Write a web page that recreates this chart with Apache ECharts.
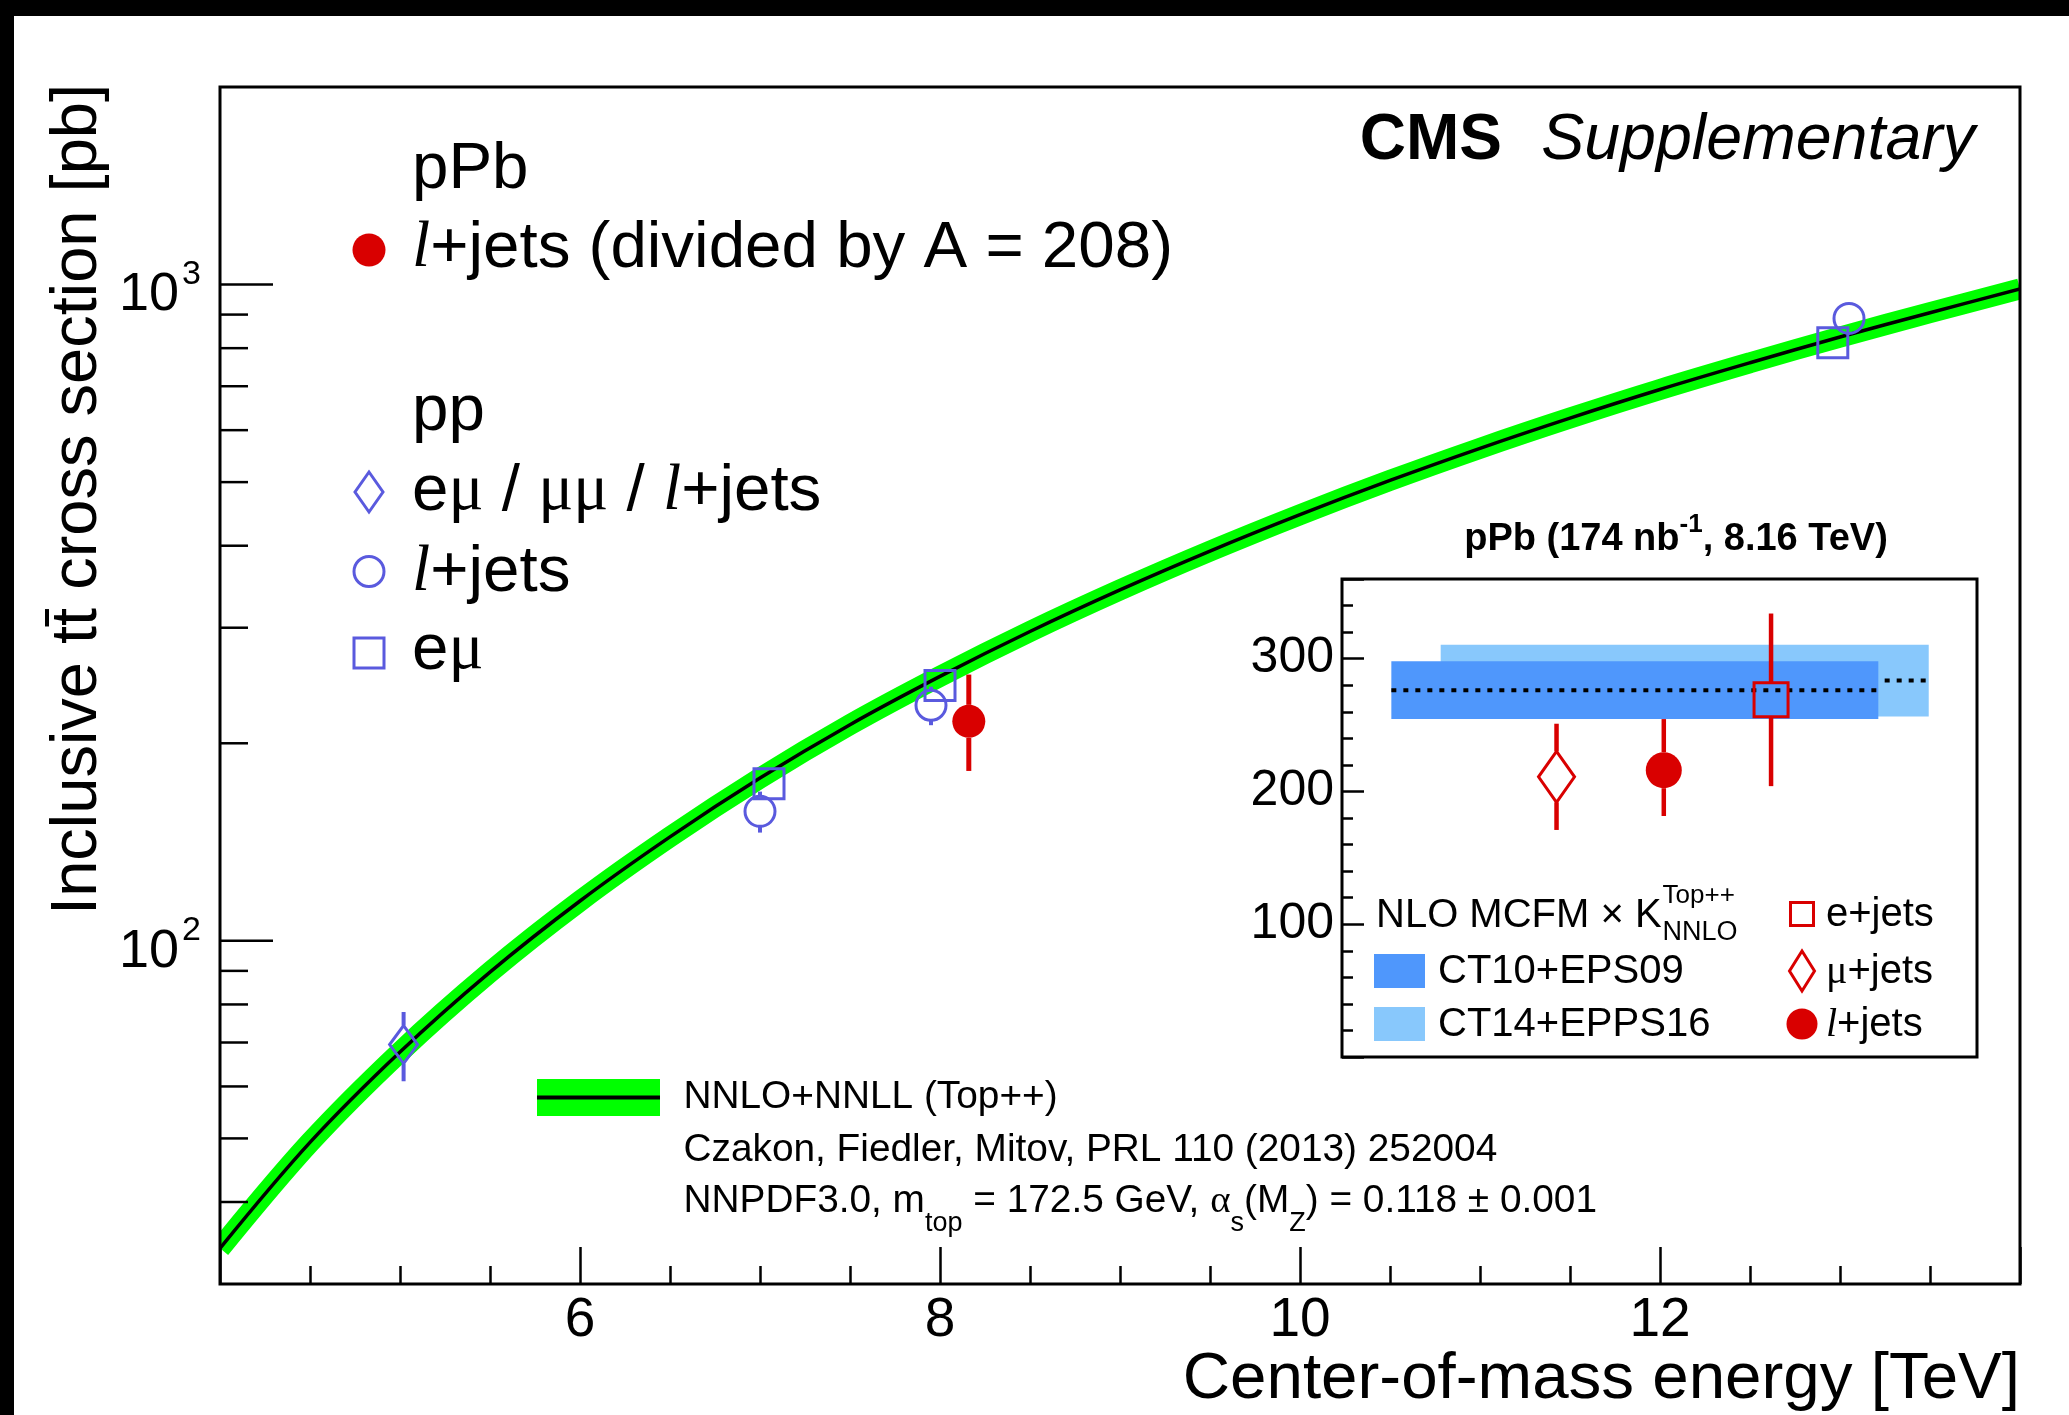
<!DOCTYPE html>
<html>
<head>
<meta charset="utf-8">
<title>Inclusive tt cross section vs centre-of-mass energy</title>
<script src="https://cdn.jsdelivr.net/npm/echarts@6/dist/echarts.min.js"></script>
<style>
  html, body { margin: 0; padding: 0; background: #ffffff; }
  #chart { width: 2069px; height: 1415px; }
</style>
</head>
<body>
<div id="chart"></div>
<script>
// ---- Top++ NNLO+NNLL prediction: sqrt(s) [TeV] -> sigma [pb]
const theoryEnergy = [4.0, 4.5, 5.0, 5.5, 6.0, 6.5, 7.0, 7.5, 8.0, 8.5, 9.0, 9.5, 10.0, 10.5, 11.0, 11.5, 12.0, 12.5, 13.0, 13.5, 14.0];
const theoryXsec = [34.0, 49.3, 67.7, 89.6, 115.0, 144.0, 177.0, 213.5, 252.9, 296.0, 342.5, 392.5, 446.0, 503.0, 563.0, 626.0, 692.0, 760.0, 831.8, 906.0, 984.5];

// ---- pp measurements
const ppDilepEnergy = [5.02];          // e mu / mu mu / l+jets
const ppDilepXsec = [69.5];
const ppDilepErr = [8.4];

const ppLjetsEnergy = [7.0, 7.95, 13.05];
const ppLjetsXsec = [157.5, 228.5, 888];
const ppLjetsErr = [11.3, 15.4, 33];

const ppEmuEnergy = [7.05, 8.0, 12.96];
const ppEmuXsec = [173.6, 244.9, 815];
const ppEmuErr = [6.5, 8.6, 43];

// ---- pPb l+jets, per nucleon pair (divided by A = 208)
const pPbEnergy = [8.16];
const pPbXsec = [216];
const pPbErrUp = [38.5];
const pPbErrDown = [34.5];

// ---- main axes
const xRange = [4, 14];
const yRange = [30, 2000];
const yMajorTicks = [100, 1000];
const yMinorTicks = [40, 50, 60, 70, 80, 90, 200, 300, 400, 500, 600, 700, 800, 900];

// ---- pPb 8.16 TeV panel: mu+jets, l+jets, e+jets
const insetSlot = [2, 3, 4];
const insetXsec = [211, 216, 269];
const insetErrUp = [40, 38.5, 65];
const insetErrDown = [40, 34.5, 65];
const insetXRange = [0, 5.92];
const insetYRange = [0, 360];
const ct10Span = [0.46, 5.0];
const ct10Xsec = [254.5, 276.3, 298];    // low, central, high
const ct14Span = [0.92, 5.47];
const ct14Xsec = [256.5, 283.5, 310.5];  // low, central, high

// ---- styling
const SANS = '"Liberation Sans", Arial, Helvetica, sans-serif';
const SERIF = '"Liberation Serif", "Times New Roman", serif';
const BLUE = '#5a5ade';
const RED = '#d90000';
const GREEN = '#00ff00';
const DARK = '#4f97fc';
const LIGHT = '#88c8fc';

const measureCtx = document.createElement('canvas').getContext('2d');
function fontOf(p) {
  return (p.style || 'normal') + ' ' + (p.weight || 'normal') + ' ' + p.size + 'px ' + (p.family || SANS);
}
function runWidth(parts) {
  return parts.reduce((s, p) => { measureCtx.font = fontOf(p); return s + measureCtx.measureText(p.t).width; }, 0);
}
function textEl(x, y, p, align) {
  return {
    type: 'text', z: 30, x, y, silent: true,
    style: { text: p.t, font: fontOf(p), fill: p.color || '#000',
             align: align || 'left', verticalAlign: 'middle', textAlign: align || 'left', textVerticalAlign: 'middle' }
  };
}
// lays out a sequence of differently styled pieces of text on one line
function textRun(x, y, parts, anchor) {
  const total = runWidth(parts);
  let cx = anchor === 'right' ? x - total : anchor === 'center' ? x - total / 2 : x;
  return parts.map(p => {
    const el = textEl(cx, y + (p.dy || 0), p);
    measureCtx.font = fontOf(p);
    cx += measureCtx.measureText(p.t).width;
    return el;
  });
}

function markerShape(o, cx, cy) {
  const style = o.hollow ? { fill: 'none', stroke: o.color, lineWidth: o.lw || 3 } : { fill: o.color };
  if (o.shape === 'circle') return { type: 'circle', shape: { cx, cy, r: o.r }, style };
  if (o.shape === 'square') return { type: 'rect', shape: { x: cx - o.half, y: cy - o.half, width: 2 * o.half, height: 2 * o.half }, style };
  return { type: 'polygon', shape: { points: [[cx, cy - o.hh], [cx + o.hw, cy], [cx, cy + o.hh], [cx - o.hw, cy]] }, style };
}
function halfHeight(o) { return o.shape === 'circle' ? o.r : o.shape === 'square' ? o.half : o.hh; }

// points with vertical error bars that stop at the marker outline
function measurementSeries(rows, o, axisIndex, z) {
  return {
    type: 'custom', xAxisIndex: axisIndex, yAxisIndex: axisIndex, z: z || 6, silent: true,
    data: rows,
    renderItem(params, api) {
      const x = api.value(0), y = api.value(1), up = api.value(2), dn = api.value(3);
      const p = api.coord([x, y]);
      const t = api.coord([x, y + up]);
      const b = api.coord([x, y - dn]);
      const hh = halfHeight(o);
      const ls = { stroke: o.color, lineWidth: o.barWidth };
      const children = [];
      if (t[1] < p[1] - hh) children.push({ type: 'line', shape: { x1: p[0], y1: t[1], x2: p[0], y2: p[1] - hh }, style: ls });
      if (b[1] > p[1] + hh) children.push({ type: 'line', shape: { x1: p[0], y1: p[1] + hh, x2: p[0], y2: b[1] }, style: ls });
      children.push(markerShape(o, p[0], p[1]));
      return { type: 'group', children };
    }
  };
}

// prediction curve drawn as one smooth polyline, clipped to the frame
function curveSeries(rows, color, width, z) {
  return {
    type: 'custom', xAxisIndex: 0, yAxisIndex: 0, z, silent: true, clip: true,
    data: rows,
    renderItem(params, api) {
      if (params.dataIndexInside !== 0) return null;
      const pts = [];
      for (let i = 0; i < params.dataInsideLength; i++) {
        pts.push(api.coord([api.value(0, i), api.value(1, i)]));
      }
      return { type: 'polyline', shape: { points: pts, smooth: 0.35 },
               style: { stroke: color, lineWidth: width, fill: 'none', lineJoin: 'round' } };
    }
  };
}

const mDiamond = { shape: 'diamond', hw: 14, hh: 19, color: BLUE, hollow: true, lw: 3, barWidth: 4 };
const mCircle = { shape: 'circle', r: 15, color: BLUE, hollow: true, lw: 3, barWidth: 4 };
const mSquare = { shape: 'square', half: 15, color: BLUE, hollow: true, lw: 3, barWidth: 4 };
const mDot = { shape: 'circle', r: 16.5, color: RED, barWidth: 5 };

const iDiamond = { shape: 'diamond', hw: 18, hh: 25.5, color: RED, hollow: true, lw: 3, barWidth: 4.5 };
const iDot = { shape: 'circle', r: 18, color: RED, barWidth: 4.5 };
const iSquare = { shape: 'square', half: 17, color: RED, hollow: true, lw: 3, barWidth: 4.5 };

const rowsOf = (xs, ys, up, dn) => xs.map((x, i) => [x, ys[i], up[i], dn[i]]);
const theoryRows = theoryEnergy.map((e, i) => [e, theoryXsec[i]]);

// ---- y-axis ticks and decade labels of the log axis
const yTickRows = yMajorTicks.map(v => [xRange[0], v, 1]).concat(yMinorTicks.map(v => [xRange[0], v, 0]));
const supFont = { size: 34 };
const baseFont = { size: 54 };

// ---- nPDF bands of the panel
const bandRows = [
  [ct14Span[0], ct14Xsec[1], ct14Span[1], ct14Xsec[0], ct14Xsec[2], 0],
  [ct10Span[0], ct10Xsec[1], ct10Span[1], ct10Xsec[0], ct10Xsec[2], 1]
];

const graphics = [];
// outer dark edges
graphics.push({ type: 'rect', z: 40, shape: { x: 0, y: 0, width: 2069, height: 16 }, style: { fill: '#000' } });
graphics.push({ type: 'rect', z: 40, shape: { x: 0, y: 0, width: 14, height: 1415 }, style: { fill: '#000' } });

// CMS label
graphics.push(...textRun(1502, 141, [{ t: 'CMS', size: 64, weight: 'bold' }], 'right'));
graphics.push(...textRun(1975, 141, [{ t: 'Supplementary', size: 64.5, style: 'italic' }], 'right'));

// axis titles
graphics.push(...textRun(2020, 1380, [{ t: 'Center-of-mass energy [TeV]', size: 65.5 }], 'right'));
graphics.push({
  type: 'text', z: 30, x: 78, y: 84, rotation: Math.PI / 2, silent: true,
  style: { text: 'Inclusive tt\u0304 cross section [pb]', font: fontOf({ size: 65 }), fill: '#000',
           align: 'right', verticalAlign: 'middle', textAlign: 'right', textVerticalAlign: 'middle' }
});

// legend of the measurements
const L = 65.5;
const italL = { t: 'l', size: L, style: 'italic', family: SERIF };
graphics.push(...textRun(412, 170, [{ t: 'pPb', size: L }]));
graphics.push(...textRun(412, 249, [italL, { t: '+jets (divided by A = 208)', size: L }]));
graphics.push(...textRun(412, 411.5, [{ t: 'pp', size: L }]));
graphics.push(...textRun(412, 492, [{ t: 'e', size: L }, { t: 'μ', size: L, family: SERIF }, { t: ' / ', size: L },
  { t: 'μμ', size: L, family: SERIF }, { t: ' / ', size: L }, italL, { t: '+jets', size: L }]));
graphics.push(...textRun(412, 572.5, [italL, { t: '+jets', size: L }]));
graphics.push(...textRun(412, 650.5, [{ t: 'e', size: L }, { t: 'μ', size: L, family: SERIF }]));
[[mDot, 250], [Object.assign({}, mDiamond, { hh: 20 }), 492], [mCircle, 571.5], [mSquare, 653]].forEach(([o, y]) => {
  graphics.push(Object.assign(markerShape(o, 369, y), { z: 30 }));
});

// legend of the prediction
graphics.push({ type: 'rect', z: 30, shape: { x: 537, y: 1079, width: 123, height: 37 }, style: { fill: GREEN } });
graphics.push({ type: 'line', z: 31, shape: { x1: 537, y1: 1097.5, x2: 660, y2: 1097.5 }, style: { stroke: '#000', lineWidth: 4 } });
const S = 38.8;
graphics.push(...textRun(683.5, 1097.5, [{ t: 'NNLO+NNLL (Top++)', size: S }]));
graphics.push(...textRun(683.5, 1150, [{ t: 'Czakon, Fiedler, Mitov, PRL 110 (2013) 252004', size: S }]));
graphics.push(...textRun(683.5, 1201.5, [
  { t: 'NNPDF3.0, m', size: S }, { t: 'top', size: 27, dy: 22 }, { t: ' = 172.5 GeV, ', size: S },
  { t: 'α', size: S, family: SERIF }, { t: 's', size: 27, dy: 22 }, { t: '(M', size: S }, { t: 'Z', size: 27, dy: 22 },
  { t: ') = 0.118 ± 0.001', size: S }]));

// panel title and legend
graphics.push(...textRun(1676, 540, [{ t: 'pPb (174 nb', size: 38, weight: 'bold' }, { t: '-1', size: 26, weight: 'bold', dy: -15 },
  { t: ', 8.16 TeV)', size: 38, weight: 'bold' }], 'center'));
const nloParts = [{ t: 'NLO MCFM × K', size: 40 }];
const nloW = runWidth(nloParts);
graphics.push(...textRun(1376, 916, nloParts));
graphics.push(...textRun(1376 + nloW + 1, 896, [{ t: 'Top++', size: 26 }]));
graphics.push(...textRun(1376 + nloW + 1, 933, [{ t: 'NNLO', size: 27 }]));
graphics.push({ type: 'rect', z: 30, shape: { x: 1374, y: 954, width: 51, height: 34 }, style: { fill: DARK } });
graphics.push({ type: 'rect', z: 30, shape: { x: 1374, y: 1007, width: 51, height: 34 }, style: { fill: LIGHT } });
graphics.push(...textRun(1438, 972, [{ t: 'CT10+EPS09', size: 40 }]));
graphics.push(...textRun(1438, 1025, [{ t: 'CT14+EPPS16', size: 40 }]));
graphics.push(Object.assign(markerShape({ shape: 'square', half: 11.5, color: RED, hollow: true, lw: 3 }, 1802, 914), { z: 30 }));
graphics.push(Object.assign(markerShape({ shape: 'diamond', hw: 12.5, hh: 20, color: RED, hollow: true, lw: 3 }, 1802, 971), { z: 30 }));
graphics.push(Object.assign(markerShape({ shape: 'circle', r: 15.5, color: RED }, 1802, 1024), { z: 30 }));
graphics.push(...textRun(1826, 915, [{ t: 'e+jets', size: 40 }]));
graphics.push(...textRun(1826, 972, [{ t: 'μ', size: 40, family: SERIF }, { t: '+jets', size: 40 }]));
graphics.push(...textRun(1826, 1025, [{ t: 'l', size: 40, style: 'italic', family: SERIF }, { t: '+jets', size: 40 }]));

const chart = echarts.init(document.getElementById('chart'), null, { renderer: 'canvas' });
chart.setOption({
  animation: false,
  backgroundColor: '#ffffff',
  textStyle: { fontFamily: SANS, color: '#000' },
  grid: [
    { left: 220, top: 87, width: 1800, height: 1197, show: true, z: 10, backgroundColor: 'transparent',
      borderColor: '#000', borderWidth: 3, containLabel: false, outerBoundsMode: 'none' },
    { left: 1342, top: 579, width: 635, height: 478, show: true, z: 10, backgroundColor: '#ffffff',
      borderColor: '#000', borderWidth: 3, containLabel: false, outerBoundsMode: 'none' }
  ],
  xAxis: [
    { type: 'value', gridIndex: 0, min: xRange[0], max: xRange[1], interval: 2, z: 12,
      axisLine: { show: false }, splitLine: { show: false },
      axisTick: { show: true, inside: true, length: 37, lineStyle: { color: '#000', width: 2.5 } },
      minorTick: { show: true, splitNumber: 4, length: 18, lineStyle: { color: '#000', width: 2.5 } },
      axisLabel: { margin: 9, fontSize: 55, color: '#000', fontFamily: SANS,
        formatter: v => (v <= xRange[0] || v >= xRange[1]) ? '' : String(Math.round(v)) } },
    { type: 'value', gridIndex: 1, min: insetXRange[0], max: insetXRange[1], show: false }
  ],
  yAxis: [
    { type: 'log', logBase: 10, gridIndex: 0, min: yRange[0], max: yRange[1],
      axisLine: { show: false }, axisTick: { show: false }, splitLine: { show: false }, minorTick: { show: false },
      axisLabel: { show: false } },
    { type: 'value', gridIndex: 1, min: insetYRange[0], max: insetYRange[1], interval: 100, z: 12,
      axisLine: { show: false }, splitLine: { show: false },
      axisTick: { show: true, inside: true, length: 22, lineStyle: { color: '#000', width: 2.5 } },
      minorTick: { show: true, splitNumber: 5, length: 11, lineStyle: { color: '#000', width: 2.5 } },
      axisLabel: { margin: 8, fontSize: 50, color: '#000', fontFamily: SANS,
        formatter: v => (v <= insetYRange[0] || v >= insetYRange[1]) ? '' : String(Math.round(v)) } }
  ],
  series: [
    curveSeries(theoryRows, GREEN, 21, 2),
    curveSeries(theoryRows, '#000', 3.5, 3),
    { type: 'custom', name: 'y ticks', xAxisIndex: 0, yAxisIndex: 0, z: 12, silent: true, data: yTickRows,
      renderItem(params, api) {
        const v = api.value(1);
        const p = api.coord([api.value(0), v]);
        const major = api.value(2) === 1;
        const children = [{ type: 'line', shape: { x1: p[0], y1: p[1], x2: p[0] + (major ? 53 : 28), y2: p[1] },
                            style: { stroke: '#000', lineWidth: 2.5 } }];
        if (major) {
          const exp = String(Math.round(Math.log10(v)));
          const sup = Object.assign({ t: exp }, supFont);
          const base = Object.assign({ t: '10' }, baseFont);
          const right = p[0] - 19;
          const supW = runWidth([sup]);
          children.push(textEl(right - supW - 3, p[1] + 11, base, 'right'));
          children.push(textEl(right - supW, p[1] - 10, sup, 'left'));
        }
        return { type: 'group', children };
      } },
    measurementSeries(rowsOf(ppDilepEnergy, ppDilepXsec, ppDilepErr, ppDilepErr), mDiamond, 0),
    measurementSeries(rowsOf(ppLjetsEnergy, ppLjetsXsec, ppLjetsErr, ppLjetsErr), mCircle, 0),
    measurementSeries(rowsOf(ppEmuEnergy, ppEmuXsec, ppEmuErr, ppEmuErr), mSquare, 0),
    measurementSeries(rowsOf(pPbEnergy, pPbXsec, pPbErrUp, pPbErrDown), mDot, 0),
    { type: 'custom', name: 'nPDF bands', xAxisIndex: 1, yAxisIndex: 1, z: 11, silent: true, data: bandRows,
      renderItem(params, api) {
        const x0 = api.value(0), mid = api.value(1), x1 = api.value(2), lo = api.value(3), hi = api.value(4);
        const dark = api.value(5) === 1;
        const a = api.coord([x0, hi]), b = api.coord([x1, lo]);
        const m0 = api.coord([x0, mid]), m1 = api.coord([x1, mid]);
        return { type: 'group', children: [
          { type: 'rect', shape: { x: a[0], y: a[1], width: b[0] - a[0], height: b[1] - a[1] }, style: { fill: dark ? DARK : LIGHT } },
          { type: 'line', shape: { x1: m0[0], y1: m0[1], x2: m1[0], y2: m1[1] }, style: { stroke: '#000', lineWidth: 4, lineDash: [5, 7] } }
        ] };
      } },
    measurementSeries([[insetSlot[0], insetXsec[0], insetErrUp[0], insetErrDown[0]]], iDiamond, 1, 13),
    measurementSeries([[insetSlot[1], insetXsec[1], insetErrUp[1], insetErrDown[1]]], iDot, 1, 13),
    measurementSeries([[insetSlot[2], insetXsec[2], insetErrUp[2], insetErrDown[2]]], iSquare, 1, 13)
  ],
  graphic: { elements: graphics }
});
</script>
</body>
</html>
